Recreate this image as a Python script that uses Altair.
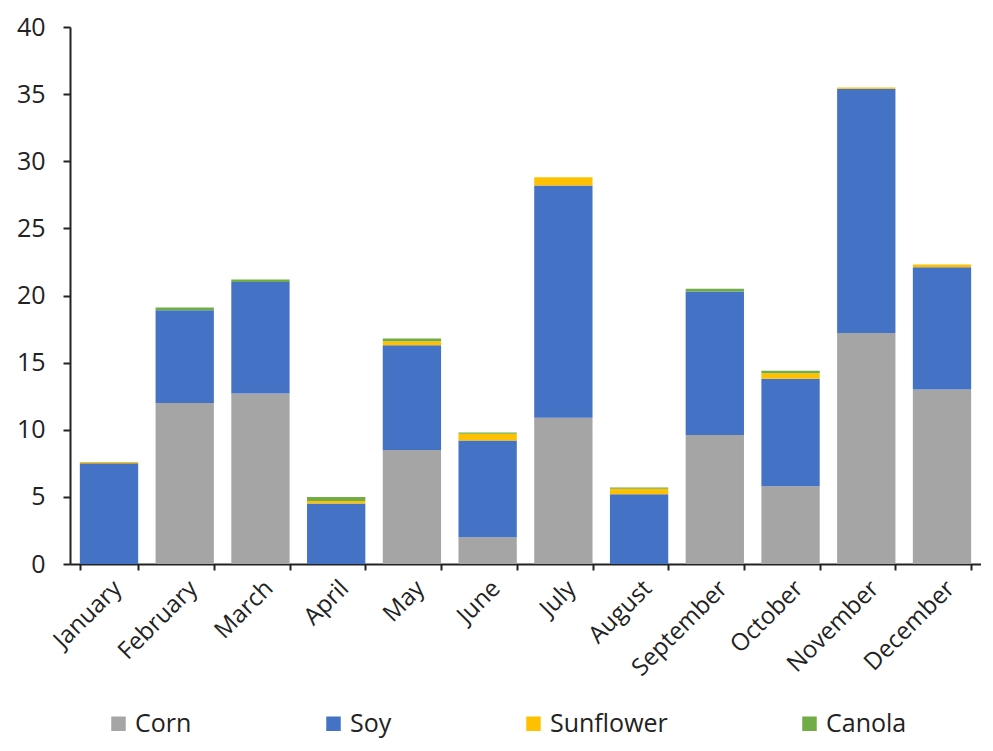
import altair as alt
import pandas as pd

months = ["January", "February", "March", "April", "May", "June", "July",
          "August", "September", "October", "November", "December"]
corn = [0.0, 12.0, 12.7, 0.0, 8.5, 2.0, 10.9, 0.0, 9.6, 5.8, 17.2, 13.0]
soy = [7.5, 6.9, 8.3, 4.5, 7.8, 7.2, 17.3, 5.2, 10.7, 8.0, 18.2, 9.1]
sunflower = [0.1, 0.0, 0.0, 0.2, 0.3, 0.5, 0.6, 0.4, 0.0, 0.4, 0.1, 0.2]
canola = [0.0, 0.2, 0.2, 0.3, 0.2, 0.1, 0.0, 0.1, 0.2, 0.2, 0.0, 0.0]

crops = ["Corn", "Soy", "Sunflower", "Canola"]
colors = ["#A5A5A5", "#4472C4", "#FFC000", "#70AD47"]

rows = []
for i, m in enumerate(months):
    for k, (name, vals) in enumerate(zip(crops, [corn, soy, sunflower, canola])):
        rows.append({"month": m, "crop": name, "value": vals[i], "ord": k})
df = pd.DataFrame(rows)

font = "Open Sans"

chart = alt.Chart(df).mark_bar().encode(
    x=alt.X("month:N", sort=months, title=None,
            scale=alt.Scale(paddingInner=0.23, paddingOuter=0.13),
            axis=alt.Axis(labelAngle=-45, labelFontSize=24, labelFont=font,
                          labelColor="#222", domainColor="#222", tickColor="#222",
                          domainWidth=2, tickWidth=2, tickSize=6, tickBand="extent",
                          labelPadding=6)),
    y=alt.Y("value:Q", stack="zero", title=None,
            scale=alt.Scale(domain=[0, 40]),
            axis=alt.Axis(values=[0, 5, 10, 15, 20, 25, 30, 35, 40], grid=False,
                          labelFontSize=25, labelFont=font, labelColor="#222",
                          domainColor="#222", tickColor="#222", domainWidth=2,
                          tickWidth=2, tickSize=7, labelPadding=18)),
    color=alt.Color("crop:N", sort=crops,
                    scale=alt.Scale(domain=crops, range=colors),
                    legend=alt.Legend(title=None, orient="none", direction="horizontal",
                                      legendX=36, legendY=684, symbolType="square",
                                      symbolSize=210, symbolStrokeWidth=0,
                                      labelFontSize=25, labelFont=font, labelColor="#222",
                                      columnPadding=129, columns=4)),
    order=alt.Order("ord:Q"),
).properties(
    width=911, height=537,
    padding={"left": 8, "top": 7, "right": 0, "bottom": 2},
).configure(background="white").configure_view(stroke=None)

chart.save("out.html", embed_options={"renderer": "svg", "actions": False})
